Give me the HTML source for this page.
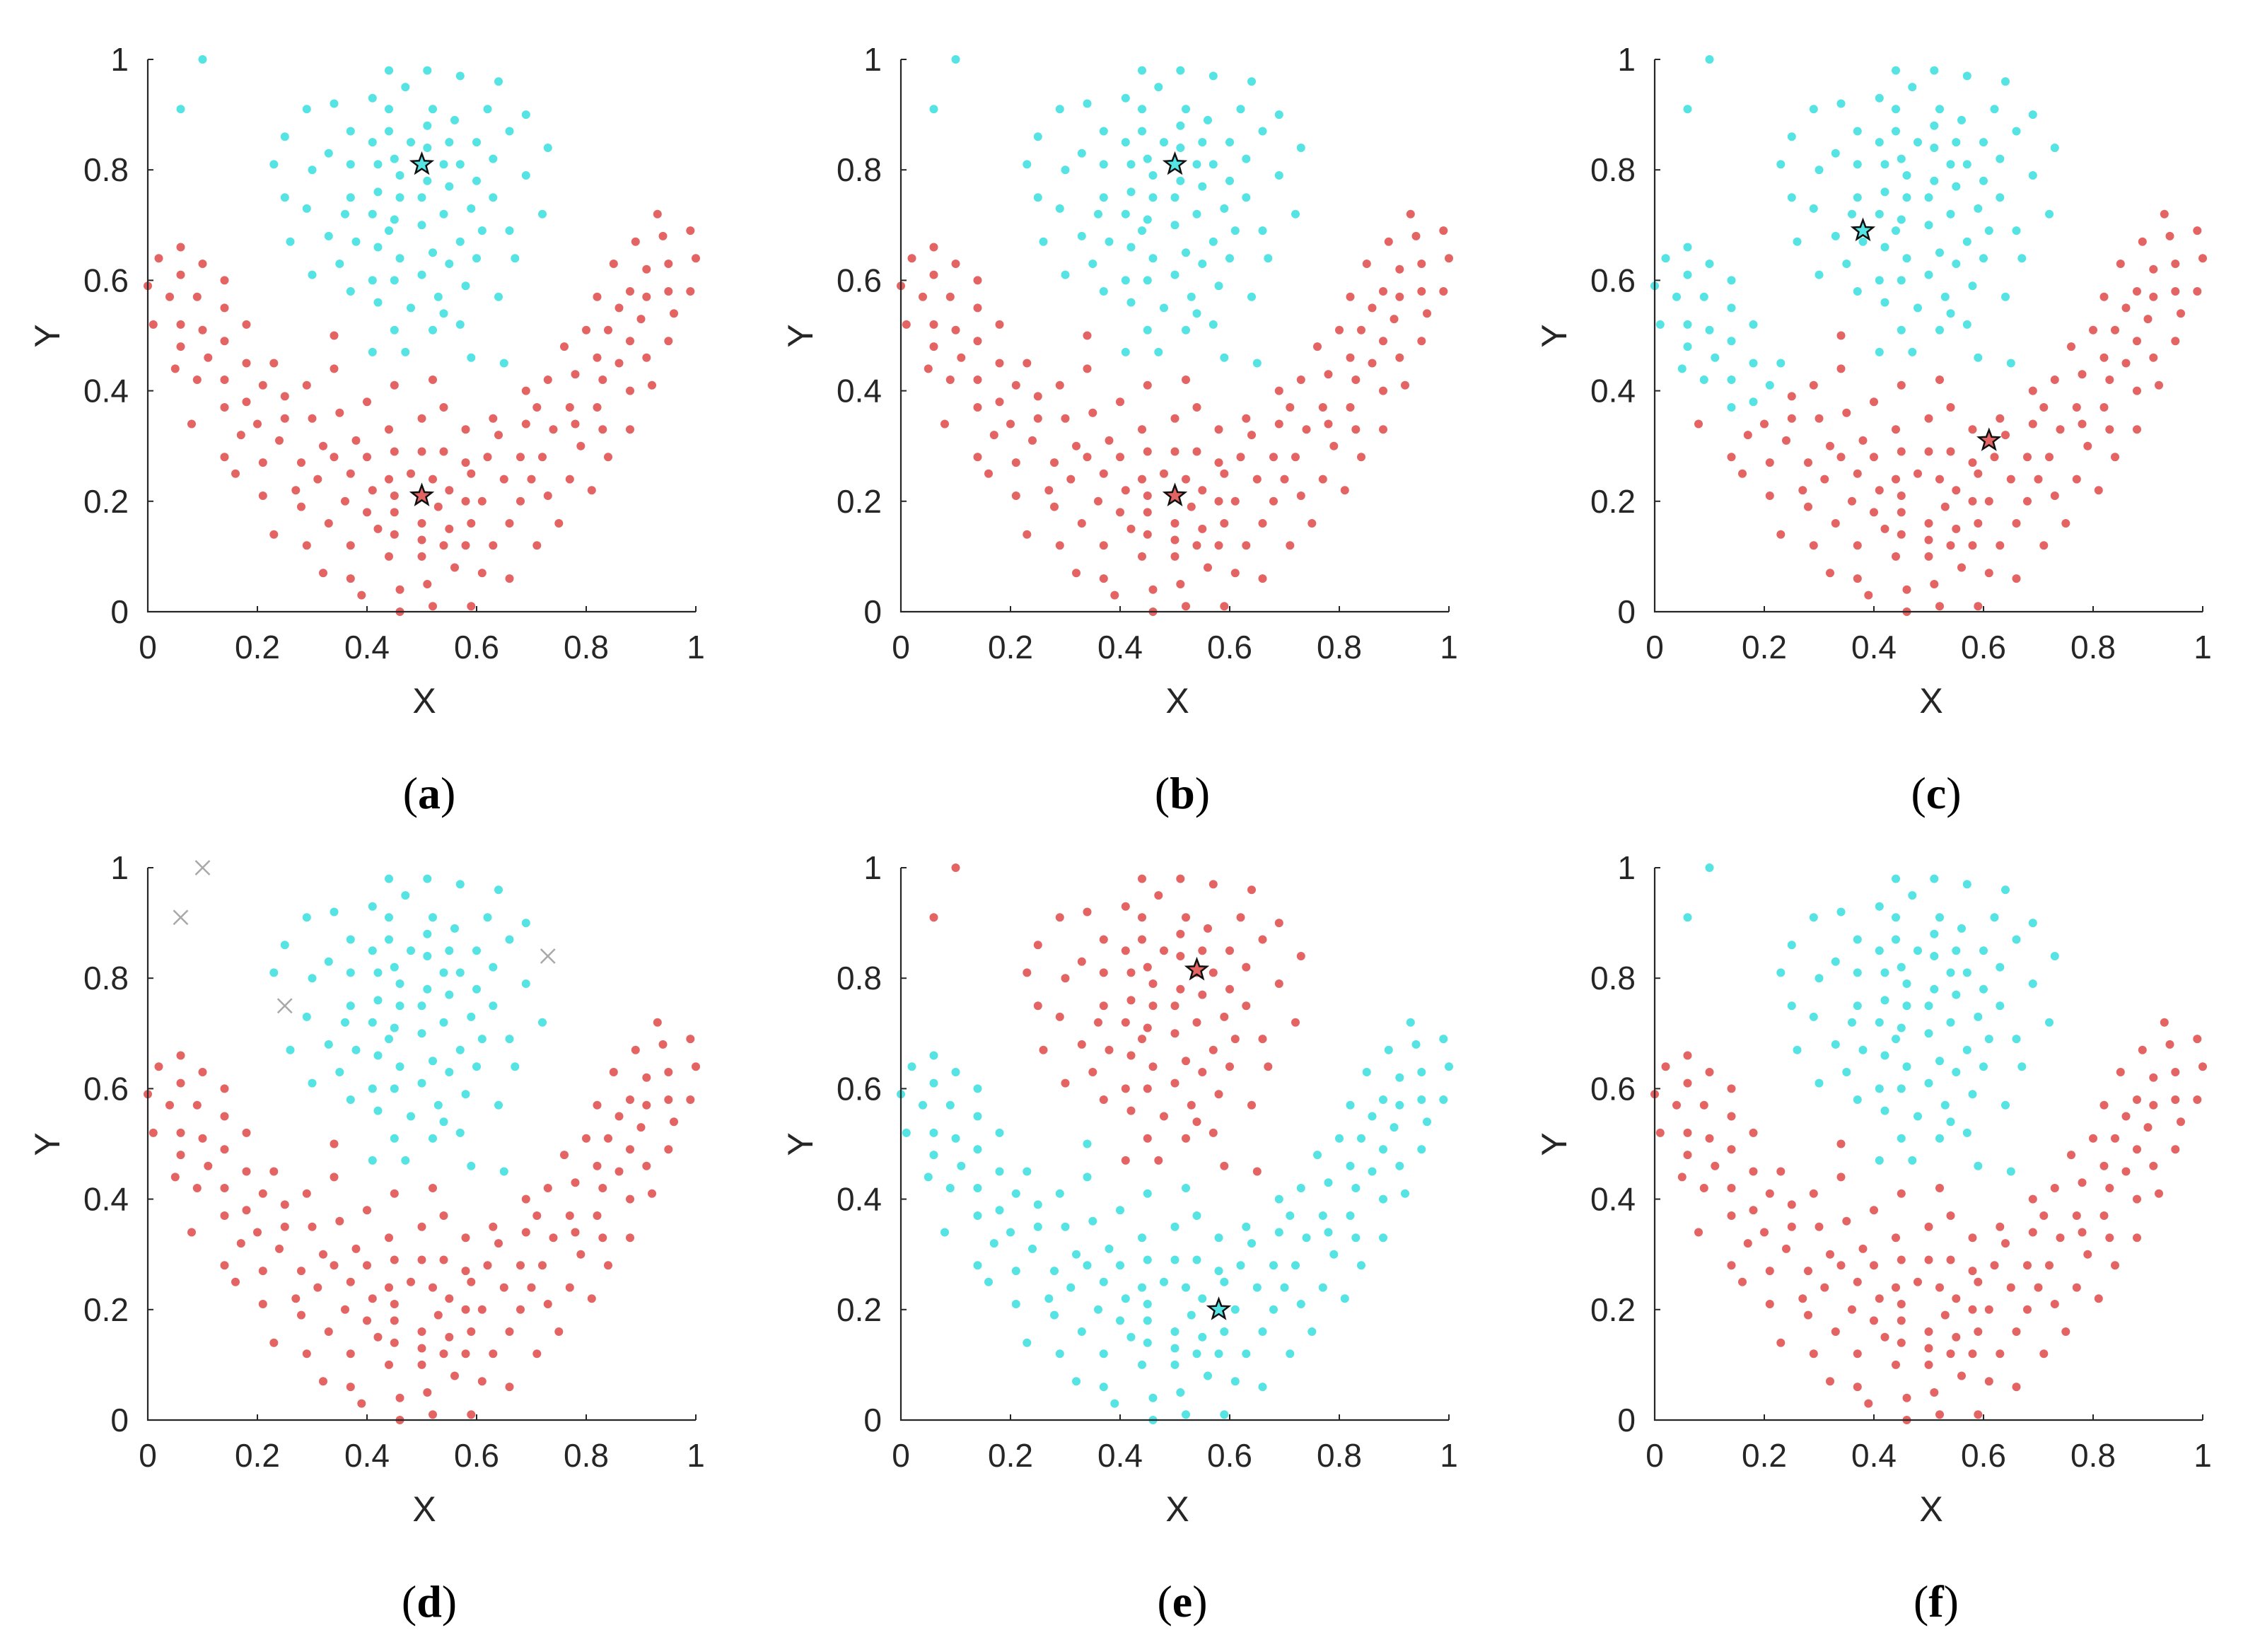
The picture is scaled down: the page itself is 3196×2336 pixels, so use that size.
<!DOCTYPE html>
<html><head><meta charset="utf-8"><style>
html,body{margin:0;padding:0;background:#fff;}
svg{display:block;}
text{font-family:"Liberation Sans",sans-serif;fill:#262626;}
.cap{font-family:"Liberation Serif",serif;fill:#000;}
</style></head><body>
<svg id="fig" width="3196" height="2336" viewBox="0 0 3196 2336" xmlns="http://www.w3.org/2000/svg"></svg>
<script>
const headX=[0.10,0.06,0.44,0.51,0.57,0.64,0.47,0.34,0.29,0.41,0.44,0.52,0.62,0.69,0.25,0.37,0.44,0.51,0.56,0.66,0.48,0.41,0.55,0.60,0.73,0.33,0.51,0.45,0.23,0.30,0.37,0.42,0.46,0.54,0.57,0.63,0.69,0.51,0.55,0.60,0.25,0.37,0.42,0.46,0.50,0.29,0.36,0.41,0.45,0.54,0.59,0.63,0.72,0.50,0.26,0.33,0.38,0.42,0.44,0.61,0.66,0.52,0.46,0.57,0.55,0.60,0.67,0.30,0.35,0.41,0.45,0.50,0.37,0.42,0.53,0.58,0.64,0.48,0.54,0.57,0.45,0.52,0.41,0.47,0.59,0.65];
const headY=[1.00,0.91,0.98,0.98,0.97,0.96,0.95,0.92,0.91,0.93,0.91,0.91,0.91,0.90,0.86,0.87,0.87,0.88,0.89,0.87,0.85,0.85,0.85,0.85,0.84,0.83,0.84,0.82,0.81,0.80,0.81,0.81,0.79,0.81,0.81,0.82,0.79,0.78,0.77,0.78,0.75,0.75,0.76,0.75,0.75,0.73,0.72,0.72,0.71,0.72,0.73,0.75,0.72,0.70,0.67,0.68,0.67,0.66,0.69,0.69,0.69,0.65,0.64,0.67,0.63,0.64,0.64,0.61,0.63,0.60,0.60,0.61,0.58,0.56,0.57,0.59,0.57,0.55,0.54,0.52,0.51,0.51,0.47,0.47,0.46,0.45];
const bowlX=[0.06,0.02,0.10,0.06,0.00,0.14,0.04,0.09,0.14,0.01,0.06,0.10,0.18,0.14,0.06,0.34,0.11,0.05,0.18,0.23,0.34,0.09,0.14,0.21,0.29,0.45,0.52,0.25,0.40,0.14,0.18,0.08,0.20,0.25,0.30,0.35,0.50,0.54,0.44,0.17,0.24,0.38,0.32,0.14,0.21,0.28,0.34,0.40,0.45,0.50,0.54,0.16,0.37,0.31,0.44,0.48,0.52,0.27,0.41,0.55,0.21,0.28,0.36,0.45,0.53,0.40,0.45,0.50,0.42,0.45,0.33,0.23,0.50,0.29,0.37,0.54,0.55,0.44,0.50,0.32,0.37,0.56,0.39,0.46,0.51,0.46,0.52,0.59,0.61,0.66,0.63,0.58,0.71,0.59,0.66,0.61,0.58,0.68,0.75,0.73,0.65,0.70,0.59,0.62,0.58,0.68,0.72,0.77,0.81,0.84,0.79,0.69,0.74,0.78,0.83,0.88,0.58,0.64,0.63,0.71,0.77,0.82,0.69,0.73,0.78,0.83,0.88,0.92,0.82,0.86,0.91,0.76,0.80,0.84,0.88,0.95,0.90,0.96,0.86,0.82,0.91,0.95,0.99,0.88,0.85,0.91,0.95,0.89,0.94,0.99,0.93,1.00];
const bowlY=[0.66,0.64,0.63,0.61,0.59,0.60,0.57,0.57,0.55,0.52,0.52,0.51,0.52,0.49,0.48,0.50,0.46,0.44,0.45,0.45,0.44,0.42,0.42,0.41,0.41,0.41,0.42,0.39,0.38,0.37,0.38,0.34,0.34,0.35,0.35,0.36,0.35,0.37,0.33,0.32,0.31,0.31,0.30,0.28,0.27,0.27,0.28,0.28,0.29,0.29,0.29,0.25,0.25,0.24,0.24,0.25,0.24,0.22,0.22,0.22,0.21,0.19,0.20,0.21,0.19,0.18,0.18,0.16,0.15,0.14,0.16,0.14,0.13,0.12,0.12,0.12,0.15,0.10,0.10,0.07,0.06,0.08,0.03,0.04,0.05,0.00,0.01,0.01,0.07,0.06,0.12,0.12,0.12,0.16,0.16,0.20,0.20,0.20,0.16,0.21,0.24,0.24,0.25,0.28,0.27,0.28,0.28,0.24,0.22,0.28,0.30,0.34,0.33,0.34,0.33,0.33,0.33,0.32,0.35,0.37,0.37,0.37,0.40,0.42,0.43,0.42,0.40,0.41,0.46,0.45,0.46,0.48,0.51,0.51,0.49,0.49,0.53,0.54,0.55,0.57,0.57,0.58,0.58,0.58,0.63,0.62,0.63,0.67,0.68,0.69,0.72,0.64];
const noiseX=[0.10,0.06,0.25,0.73];
const noiseY=[1.00,0.91,0.75,0.84];
const starsA=[[0.50,0.81,'c'],[0.50,0.21,'r']];
const starsC=[[0.38,0.69,'c'],[0.61,0.31,'r']];
const starsE=[[0.54,0.815,'r'],[0.58,0.20,'c']];
const xTicks=[0,0.2,0.4,0.6,0.8,1];
const yTicks=[0,0.2,0.4,0.6,0.8,1];
const xTickLabels=['0','0.2','0.4','0.6','0.8','1'];
const yTickLabels=['0','0.2','0.4','0.6','0.8','1'];
const captions=['a','b','c','d','e','f'];

const NS='http://www.w3.org/2000/svg';
const svg=document.getElementById('fig');
const COL={r:'#e46464',c:'#55e3e3'};
const W=775,H=781,X0=209,Y1=84;
const colOff=[0,1065,2131],rowOff=[0,1143];
function mk(tag,at,parent){const e=document.createElementNS(NS,tag);for(const k in at)e.setAttribute(k,at[k]);(parent||svg).appendChild(e);return e;}
function starPath(cx,cy,R){let d='';for(let i=0;i<10;i++){const r=i%2?R*0.42:R;const a=-Math.PI/2+i*Math.PI/5;d+=(i?'L':'M')+(cx+r*Math.cos(a)).toFixed(1)+','+(cy+r*Math.sin(a)).toFixed(1);}return d+'Z';}
function isNoise(x,y){for(let i=0;i<noiseX.length;i++)if(noiseX[i]===x&&noiseY[i]===y)return true;return false;}

for(let p=0;p<6;p++){
  const ox=colOff[p%3],oy=rowOff[Math.floor(p/3)];
  const x0=X0+ox,y1=Y1+oy,y0=y1+H;
  const sx=v=>x0+v*W, sy=v=>y0-v*H;
  const g=mk('g',{});
  
  
  const pts=mk('g',{},g);
  
  
  function dot(x,y,c){const e=mk('circle',{cx:sx(x).toFixed(1),cy:sy(y).toFixed(1),r:6,fill:COL[c]},pts);
    
    }
  for(let i=0;i<headX.length;i++){
    const x=headX[i],y=headY[i];
    if(p===3&&isNoise(x,y))continue;
    dot(x,y,p===4?'r':'c');
  }
  for(let i=0;i<bowlX.length;i++){
    const x=bowlX[i],y=bowlY[i];
    let c='r';
    if(p===4)c='c';
    if(p===2&&x<0.235&&y>0.36)c='c';
    dot(x,y,c);
  }
  if(p===3){
    for(let i=0;i<noiseX.length;i++){
      const cx=sx(noiseX[i]),cy=sy(noiseY[i]),s=10;
      const e=mk('path',{d:`M${cx-s},${cy-s}L${cx+s},${cy+s}M${cx-s},${cy+s}L${cx+s},${cy-s}`,stroke:'#a8a8a8','stroke-width':2.5,fill:'none'},g);
      
      
    }
  }
  const stars=p<=1?starsA:(p===2?starsC:(p===4?starsE:[]));
  stars.forEach(s=>{
    const e=mk('path',{d:starPath(sx(s[0]),sy(s[1]),15),fill:COL[s[2]],stroke:'#111','stroke-width':2.5,'stroke-linejoin':'miter'},g);
    
    
  });
  const ax=mk('path',{d:`M${x0},${y1}L${x0},${y0}L${x0+W},${y0}`,stroke:'#262626','stroke-width':2.2,fill:'none'},g);
  
  
  xTicks.forEach((v,i)=>{
    mk('line',{x1:sx(v),x2:sx(v),y1:y0,y2:y0-8,stroke:'#262626','stroke-width':2},g);
    const t=mk('text',{x:sx(v),y:y0+66,'font-size':46,'text-anchor':'middle'},g);
    t.textContent=xTickLabels[i];
    
    
  });
  yTicks.forEach((v,i)=>{
    mk('line',{x1:x0,x2:x0+8,y1:sy(v),y2:sy(v),stroke:'#262626','stroke-width':2},g);
    const t=mk('text',{x:x0-27,y:sy(v)+16,'font-size':46,'text-anchor':'end'},g);
    t.textContent=yTickLabels[i];
    
    
  });
  const xl=mk('text',{x:x0+391,y:y0+143,'font-size':50,'text-anchor':'middle'},g);
  xl.textContent='X';
  
  
  const yl=mk('text',{x:0,y:0,'font-size':50,'text-anchor':'middle',transform:`translate(${x0-125},${y1+391}) rotate(-90)`},g);
  yl.textContent='Y';
  
  
  const cap=mk('text',{x:x0+398,y:y0+278,'font-size':64,'text-anchor':'middle',class:'cap'},g);
  cap.innerHTML='(<tspan font-weight="bold">'+captions[p]+'</tspan>)';
  
  
}
</script>
</body></html>
